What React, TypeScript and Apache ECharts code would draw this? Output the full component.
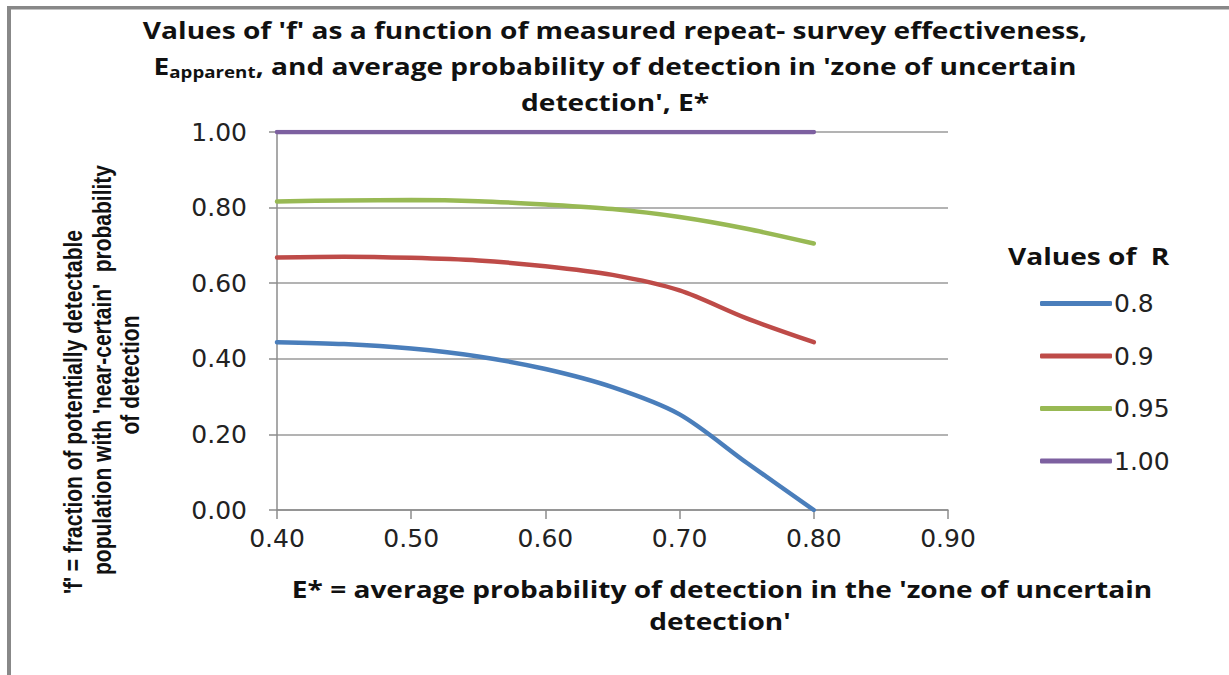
import React, { useEffect, useRef } from "react";
import * as echarts from "echarts";

const xValues = [0.4, 0.45, 0.5, 0.55, 0.6, 0.65, 0.7, 0.75, 0.8];
const seriesNames = ["0.8", "0.9", "0.95", "1.00"];
const r080 = [0.444, 0.439, 0.427, 0.406, 0.373, 0.325, 0.253, 0.125, 0.0];
const r090 = [0.668, 0.67, 0.667, 0.66, 0.645, 0.622, 0.581, 0.507, 0.444];
const r095 = [0.816, 0.819, 0.82, 0.817, 0.808, 0.796, 0.775, 0.744, 0.705];
const r100 = [1, 1, 1, 1, 1, 1, 1, 1, 1];
const colors = ["#4a7ebb", "#be4b48", "#98b954", "#7d60a0"];

const titleLines = [
  "Values of 'f' as a function of measured repeat- survey effectiveness,",
  "E{sub|apparent}, and average probability of detection in 'zone of uncertain",
  "detection', E*",
];
const yTitleLines = [
  "'f' = fraction of potentially detectable",
  "population with 'near-certain'  probability",
  "of detection",
];
const xTitleLines = [
  "E* = average probability of detection in the 'zone of uncertain",
  "detection'",
];
const legendTitle = "Values of  R";

const TITLE_FONT = "'Open Sans', 'Liberation Sans', sans-serif";
const TICK_FONT = "'DejaVu Sans', sans-serif";
const YT_FONT = "'Liberation Sans', Arial, sans-serif";
const STRETCH = 1.17;

export default function App() {
  const ref = useRef<HTMLDivElement>(null);
  useEffect(() => {
    if (!ref.current) return;
    const chart = echarts.init(ref.current, null, { renderer: "svg" });
    const allData = [r080, r090, r095, r100];
    const yTitlePos = [
      { x: 73, y: 412 },
      { x: 102, y: 370 },
      { x: 130, y: 375 },
    ];
    const xTitlePos = [
      { x: 722, y: 589 },
      { x: 720, y: 621 },
    ];
    chart.setOption({
      animation: false,
      backgroundColor: "#ffffff",
      grid: { left: 277, right: 281, top: 132, bottom: 165, containLabel: false },
      xAxis: {
        type: "value",
        min: 0.4,
        max: 0.9,
        interval: 0.1,
        axisLine: { show: true, lineStyle: { color: "#8c8c8c", width: 1.5 } },
        axisTick: { show: true, length: 9, lineStyle: { color: "#8c8c8c", width: 1.5 } },
        splitLine: { show: false },
        axisLabel: {
          margin: 16,
          fontFamily: TICK_FONT,
          fontSize: 25,
          color: "#222",
          formatter: (v: number) => v.toFixed(2),
        },
      },
      yAxis: {
        type: "value",
        min: 0,
        max: 1,
        interval: 0.2,
        axisLine: { show: true, lineStyle: { color: "#8c8c8c", width: 1.5 } },
        axisTick: { show: true, length: 8, lineStyle: { color: "#8c8c8c", width: 1.5 } },
        splitLine: { show: true, lineStyle: { color: "#9a9a9a", width: 1.5 } },
        axisLabel: {
          margin: 30,
          fontFamily: TICK_FONT,
          fontSize: 25,
          color: "#222",
          formatter: (v: number) => v.toFixed(2),
        },
      },
      legend: {
        orient: "vertical",
        left: 1035,
        top: 286,
        itemWidth: 72,
        itemHeight: 5,
        itemGap: 27.5,
        icon: "roundRect",
        textStyle: { fontFamily: TICK_FONT, fontSize: 25, color: "#222", padding: [0, 0, 0, -3] },
        data: seriesNames,
      },
      series: seriesNames.map((name, i) => ({
        name,
        type: "line",
        smooth: 0.3,
        symbol: "none",
        color: colors[i],
        lineStyle: { width: 4.5, color: colors[i], cap: "round" },
        data: xValues.map((x, j) => [x, allData[i][j]]),
        z: 3 + i,
      })),
      graphic: [
        { type: "rect", shape: { x: 7, y: 6, width: 1222, height: 3.5 }, style: { fill: "#888" }, silent: true },
        { type: "rect", shape: { x: 7, y: 6, width: 4, height: 669 }, style: { fill: "#888" }, silent: true },
        {
          type: "text",
          x: 615,
          y: 12,
          scaleX: STRETCH,
          style: {
            text: titleLines.join("\n"),
            fontFamily: TITLE_FONT,
            fontWeight: "bold",
            fontSize: 24,
            lineHeight: 36,
            fill: "#111",
            align: "center",
            verticalAlign: "top",
            rich: {
              sub: {
                fontFamily: TITLE_FONT,
                fontWeight: "bold",
                fontSize: 16,
                lineHeight: 36,
                padding: [12, 0, 0, 0],
                fill: "#111",
              },
            },
          },
        },
        {
          type: "text",
          x: 1008,
          y: 256,
          scaleX: STRETCH,
          style: {
            text: legendTitle,
            fontFamily: TITLE_FONT,
            fontWeight: "bold",
            fontSize: 24,
            fill: "#111",
            align: "left",
            verticalAlign: "middle",
          },
        },
        ...yTitleLines.map((line, i) => ({
          type: "text",
          x: yTitlePos[i].x,
          y: yTitlePos[i].y,
          rotation: Math.PI / 2,
          scaleY: 1.2,
          style: {
            text: line,
            fontFamily: YT_FONT,
            fontWeight: "bold",
            fontSize: 21,
            fill: "#111",
            align: "center",
            verticalAlign: "middle",
          },
        })),
        ...xTitleLines.map((line, i) => ({
          type: "text",
          x: xTitlePos[i].x,
          y: xTitlePos[i].y,
          scaleX: 1.22,
          style: {
            text: line,
            fontFamily: TITLE_FONT,
            fontWeight: "bold",
            fontSize: 23,
            fill: "#111",
            align: "center",
            verticalAlign: "middle",
          },
        })),
      ],
    });
    return () => chart.dispose();
  }, []);
  return (
    <div
      ref={ref}
      style={{ position: "fixed", left: 0, top: 0, width: 1229, height: 675, background: "#fff" }}
    />
  );
}
